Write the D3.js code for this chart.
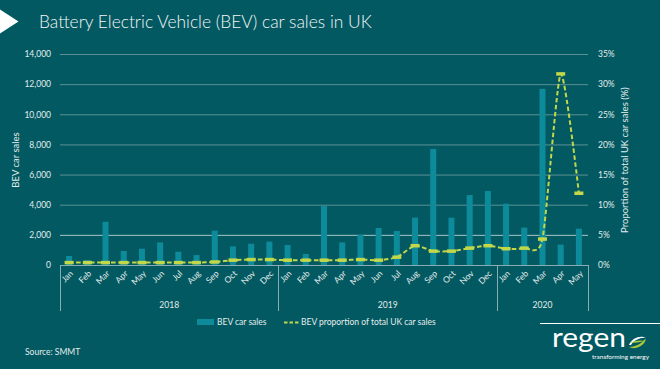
<!DOCTYPE html>
<meta charset="utf-8">
<style>
body { margin: 0; background: #035961; }
svg { display: block; font-family: Lato, "Open Sans", sans-serif; }
.axis path, .axis line { display: none; }
.axis text { fill: #e2eded; font-size: 8.5px; font-family: Lato, sans-serif; }
.grid line { stroke: #5a9196; stroke-width: 1px; }
.label { fill: #e2eded; font-size: 9.5px; }
</style>
<svg width="660" height="369"></svg>
<script src="https://cdn.jsdelivr.net/npm/d3@7"></script>
<script>

// data
var years = ["2018", "2019", "2020"];
var monthNames = ["Jan", "Feb", "Mar", "Apr", "May", "Jun", "Jul", "Aug", "Sep", "Oct", "Nov", "Dec"];
var monthsPerYear = [12, 12, 5];
var bevSales = [600, 320, 2870, 930, 1080, 1500, 880, 660, 2280, 1240, 1410, 1550,
                1330, 730, 3910, 1500, 2010, 2455, 2255, 3140, 7700, 3140, 4640, 4910,
                4070, 2480, 11690, 1350, 2410];
var bevShare = [0.4, 0.4, 0.4, 0.4, 0.4, 0.4, 0.4, 0.4, 0.5, 0.8, 0.9, 0.9,
                0.8, 0.8, 0.8, 0.8, 0.9, 0.8, 1.3, 3.2, 2.3, 2.3, 2.8, 3.2,
                2.7, 2.8, 4.3, 31.7, 11.9];
var salesTicks = [0, 2000, 4000, 6000, 8000, 10000, 12000, 14000];
var shareTicks = [0, 5, 10, 15, 20, 25, 30, 35];

var barColor = "#0d8b9a",
    lineColor = "#c2d74a",
    textColor = "#e2eded";

var svg = d3.select("svg"),
    margin = {top: 54, right: 72, bottom: 104, left: 60},
    width = svg.attr("width") - margin.left - margin.right,
    height = svg.attr("height") - margin.top - margin.bottom,
    g = svg.append("g").attr("transform", "translate(" + margin.left + "," + margin.top + ")");

// one entry per month
var rows = [];
years.forEach(function(yr, yi) {
  for (var m = 0; m < monthsPerYear[yi]; ++m) {
    var i = rows.length;
    rows.push({key: yr + "-" + m, year: yr, month: monthNames[m], sales: bevSales[i], share: bevShare[i]});
  }
});

var x = d3.scaleBand().domain(rows.map(function(d) { return d.key; }))
    .range([0, width]).paddingInner(0.67).paddingOuter(0.335),
    y = d3.scaleLinear().domain([0, 14000]).range([height, 0]),
    y2 = d3.scaleLinear().domain([0, 35]).range([height, 0]);

var edge = function(k) { return x(k) - (x.step() - x.bandwidth()) / 2; };
var mid = function(d) { return x(d.key) + x.bandwidth() / 2; };

// title
svg.append("path").attr("d", "M0,9.5L18.5,21.5L0,33.5Z").attr("fill", "#fff");
var title = svg.append("text")
    .attr("x", 39).attr("y", 27.5)
    .attr("fill", "#f2f6f6")
    .style("font-size", "18px").style("font-weight", 300)
    .text("Battery Electric Vehicle (BEV) car sales in UK");
var tw = title.node().getComputedTextLength();
title.style("font-size", (18 * 333 / tw) + "px");

// gridlines
g.append("g").attr("class", "grid")
  .selectAll("line")
  .data(salesTicks.slice(1))
  .enter().append("line")
    .attr("x1", 0).attr("x2", width)
    .attr("y1", function(d) { return y(d) + 0.5; })
    .attr("y2", function(d) { return y(d) + 0.5; })
    .style("stroke", function(d) { return d === 2000 ? "#a9c7c9" : null; });

// axes
g.append("g")
    .attr("class", "axis axis--y")
    .call(d3.axisLeft(y).tickValues(salesTicks).tickSize(0).tickPadding(9).tickFormat(d3.format(",")));

g.append("g")
    .attr("class", "axis axis--y2")
    .attr("transform", "translate(" + width + ",0)")
    .call(d3.axisRight(y2).tickValues(shareTicks).tickSize(0).tickPadding(10).tickFormat(function(d) { return d + "%"; }));

g.append("g")
    .attr("class", "axis axis--x")
    .attr("transform", "translate(0," + height + ")")
    .call(d3.axisBottom(x).tickSize(0).tickFormat(function(k) { return k.split("-")[1]; }))
  .selectAll("text")
    .text(function(k) { return monthNames[+k.split("-")[1]]; })
    .attr("x", 0).attr("y", 0).attr("dy", "0.35em")
    .attr("transform", "translate(2.5,7) rotate(-45)")
    .style("text-anchor", "end");

// frame and year separators
g.append("line")
    .attr("x1", 0).attr("x2", width)
    .attr("y1", height + 0.5).attr("y2", height + 0.5)
    .attr("stroke", "#86aeb1");

var bounds = [], start = 0;
years.forEach(function(yr, yi) {
  var end = start + monthsPerYear[yi];
  var x0 = edge(rows[start].key),
      x1 = end < rows.length ? edge(rows[end].key) : width;
  bounds.push({year: yr, x0: x0, x1: x1});
  start = end;
});

var sepX = [0].concat(bounds.map(function(b) { return b.x1; }));
g.selectAll(".sep")
  .data(sepX)
  .enter().append("line")
    .attr("class", "sep")
    .attr("x1", function(d) { return Math.round(d) + 0.5; })
    .attr("x2", function(d) { return Math.round(d) + 0.5; })
    .attr("y1", height).attr("y2", height + 46)
    .attr("stroke", "#86aeb1");

g.selectAll(".year")
  .data(bounds)
  .enter().append("text")
    .attr("class", "year")
    .attr("x", function(d) { return (d.x0 + d.x1) / 2; })
    .attr("y", height + 43)
    .attr("text-anchor", "middle")
    .attr("fill", textColor)
    .style("font-size", "8.5px")
    .text(function(d) { return d.year; });

// bars
g.selectAll(".bar")
  .data(rows)
  .enter().append("rect")
    .attr("class", "bar")
    .attr("x", function(d) { return x(d.key); })
    .attr("width", x.bandwidth())
    .attr("y", function(d) { return y(d.sales); })
    .attr("height", function(d) { return height - y(d.sales); })
    .attr("fill", barColor);

// share line (smoothed like the spreadsheet)
var line = d3.line()
    .curve(d3.curveCardinal.tension(0.35))
    .x(mid)
    .y(function(d) { return y2(d.share); });

g.append("path")
    .datum(rows)
    .attr("fill", "none")
    .attr("stroke", lineColor)
    .attr("stroke-width", 2)
    .attr("stroke-dasharray", "4.5,2.5")
    .attr("d", line);

g.selectAll(".marker")
  .data(rows)
  .enter().append("rect")
    .attr("class", "marker")
    .attr("x", function(d) { return mid(d) - 4.5; })
    .attr("y", function(d) { return y2(d.share) - 1.75; })
    .attr("width", 9)
    .attr("height", 3.5)
    .attr("fill", lineColor);

// axis titles
svg.append("text")
    .attr("class", "label")
    .attr("transform", "translate(19,160) rotate(-90)")
    .attr("text-anchor", "middle")
    .text("BEV car sales");

svg.append("text")
    .attr("class", "label")
    .attr("transform", "translate(628,160) rotate(-90)")
    .attr("text-anchor", "middle")
    .text("Proportion of total UK car sales (%)");

// legend
var legend = svg.append("g").attr("transform", "translate(0,322)");
legend.append("rect").attr("x", 197).attr("y", -3).attr("width", 17).attr("height", 6).attr("fill", barColor);
legend.append("text").attr("x", 217).attr("dy", "0.35em").attr("fill", textColor)
    .style("font-size", "8.5px").text("BEV car sales");
legend.append("line").attr("x1", 284).attr("x2", 299).attr("y1", 0.5).attr("y2", 0.5)
    .attr("stroke", lineColor).attr("stroke-width", 2).attr("stroke-dasharray", "3.5,2");
legend.append("text").attr("x", 301).attr("dy", "0.35em").attr("fill", textColor)
    .style("font-size", "8.5px").text("BEV proportion of total UK car sales");

// source
svg.append("text")
    .attr("x", 25).attr("y", 355)
    .attr("fill", textColor)
    .style("font-size", "8.5px")
    .text("Source: SMMT");

// regen logo
var logo = svg.append("g");
logo.append("line").attr("x1", 540).attr("x2", 660).attr("y1", 323.5).attr("y2", 323.5)
    .attr("stroke", "#fff").attr("stroke-width", 1.2);
logo.append("text").attr("x", 552).attr("y", 347)
    .attr("fill", "#fff").attr("textLength", 74).attr("lengthAdjust", "spacingAndGlyphs")
    .style("font-size", "27px").style("font-weight", 400)
    .text("regen");
logo.append("text").attr("x", 592).attr("y", 359)
    .attr("fill", "#fff").attr("textLength", 57).attr("lengthAdjust", "spacingAndGlyphs")
    .style("font-size", "5.5px")
    .text("transforming energy");
logo.append("path")
    .attr("d", "M629,345 C632,337 642,335 646,338 C641,337 634,340 631,345 Z")
    .attr("fill", "#fff");
logo.append("path")
    .attr("d", "M646,339 C644,347 634,350 629,347 C635,347 641,344 644,340 Z")
    .attr("fill", "#a9c93a");
logo.append("path")
    .attr("d", "M630,343 C635,340 641,340 645,341 C640,342 635,343 630,343 Z")
    .attr("fill", "#a9c93a");

</script>
